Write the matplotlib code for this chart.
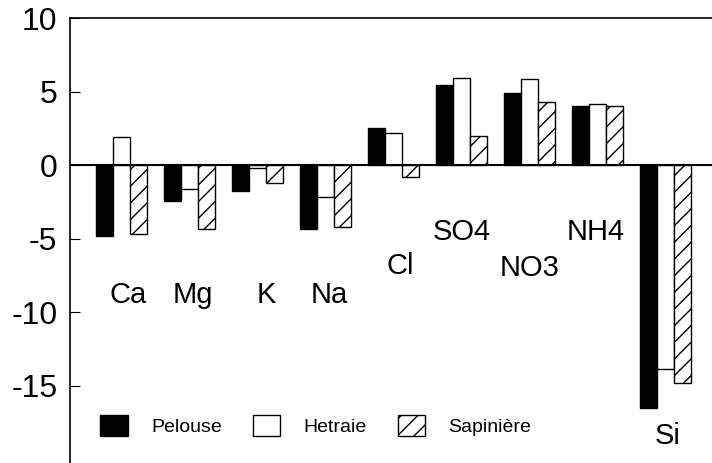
import matplotlib.pyplot as plt
import numpy as np
from matplotlib.patches import Patch

plt.rcParams['font.family'] = ['Liberation Sans', 'DejaVu Sans']
plt.rcParams['hatch.linewidth'] = 1.0

## Data ##
ions = ['Ca', 'Mg', 'K', 'Na', 'Cl', 'SO4', 'NO3', 'NH4', 'Si']
pelouse = [-4.8, -2.45, -1.75, -4.35, 2.5, 5.45, 4.9, 4.0, -16.5]
hetraie = [1.9, -1.6, -0.2, -2.2, 2.2, 5.9, 5.85, 4.15, -13.9]
sapiniere = [-4.7, -4.35, -1.2, -4.2, -0.8, 2.0, 4.3, 4.0, -14.8]
# where each ion name is written (x offset from group, y value)
label_y = [-8.85, -8.85, -8.85, -8.85, -6.9, -4.55, -7.0, -4.55, -18.4]
label_dx = [0.1, 0.05, 0.13, 0.05, 0.1, 0.0, 0.0, -0.03, 0.03]

fig = plt.figure(figsize=(7.12, 4.63), dpi=100)
ax = fig.add_axes([0.0983, 0.0, 0.9017, 0.961])

x = np.arange(len(ions))
w = 0.25
ax.bar(x - w, pelouse, w, color='black', edgecolor='black', linewidth=1)
ax.bar(x, hetraie, w, color='white', edgecolor='black', linewidth=1)
ax.bar(x + w, sapiniere, w, color='white', edgecolor='black', linewidth=1, hatch='//')

ax.axhline(0, color='black', linewidth=1.5, zorder=3)

for i, name in enumerate(ions):
    ax.text(x[i] + label_dx[i], label_y[i], name, fontsize=21, ha='center', va='center')

ax.set_xlim(-0.76, 8.68)
ax.set_ylim(-20.27, 10)
ax.set_xticks([])
ax.set_yticks([-15, -10, -5, 0, 5, 10])
ax.set_yticklabels(['-15', '-10', '-5', '0', '5', '10'])
ax.tick_params(axis='y', direction='in', length=7, pad=9, labelsize=23)
ax.spines['right'].set_visible(False)
ax.spines['bottom'].set_visible(False)
ax.spines['top'].set_linewidth(1.2)
ax.spines['left'].set_linewidth(1.2)

handles = [Patch(facecolor='black', edgecolor='black', label='Pelouse'),
           Patch(facecolor='white', edgecolor='black', label='Hetraie'),
           Patch(facecolor='white', edgecolor='black', hatch='//', label='Sapinière')]
ax.legend(handles=handles, loc='center left', bbox_to_anchor=(0.02, 0.085),
          ncol=3, frameon=False, fontsize=14, handlelength=1.4, handleheight=1.3,
          handletextpad=1.2, columnspacing=1.6)

fig.savefig('out.png', dpi=100)
